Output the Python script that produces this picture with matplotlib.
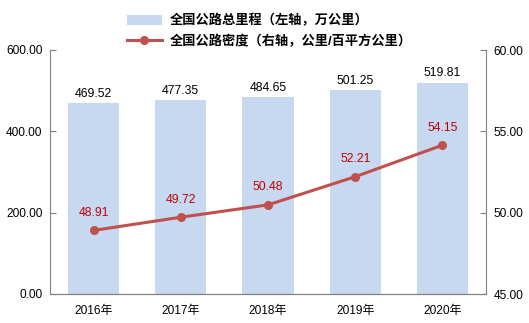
import matplotlib.pyplot as plt
from matplotlib.lines import Line2D
from matplotlib.patches import Patch

plt.rcParams['font.family'] = ['Liberation Sans', 'Noto Sans CJK SC', 'DejaVu Sans']

years = ['2016年', '2017年', '2018年', '2019年', '2020年']
mileage = [469.52, 477.35, 484.65, 501.25, 519.81]   # 万公里
density = [48.91, 49.72, 50.48, 52.21, 54.15]       # 公里/百平方公里

bar_color = '#C6D9F0'
line_color = '#C0504D'

fig = plt.figure(figsize=(5.29, 3.23), dpi=100)
ax1 = fig.add_axes([50 / 529, 29 / 323, 436 / 529, 244 / 323])
ax2 = ax1.twinx()

x = range(len(years))
ax1.bar(x, mileage, width=0.585, color=bar_color, zorder=1)
for i, v in enumerate(mileage):
    ax1.text(i, v + 8, f'{v:.2f}', ha='center', va='bottom', fontsize=8.8, color='black')

ax2.plot(x, density, color=line_color, linewidth=2.2, marker='o', markersize=5.5, zorder=3)
for i, v in enumerate(density):
    ax2.text(i, v + 0.7, f'{v:.2f}', ha='center', va='bottom', fontsize=8.8, color='#C00000')

ax1.set_xlim(-0.5, 4.5)
ax1.set_ylim(0, 600)
ax1.set_yticks([0, 200, 400, 600])
ax1.set_yticklabels([f'{t:.2f}' for t in [0, 200, 400, 600]])
ax2.set_ylim(45, 60)
ax2.set_yticks([45, 50, 55, 60])
ax2.set_yticklabels([f'{t:.2f}' for t in [45, 50, 55, 60]])
ax1.set_xticks(list(x))
ax1.set_xticklabels(years)

for ax in (ax1, ax2):
    ax.spines['top'].set_visible(False)
    for s in ax.spines.values():
        s.set_color('#808080')
    ax.tick_params(axis='y', direction='in', length=4, color='#808080', labelsize=8.6, pad=5.5)
ax1.tick_params(axis='x', length=0, labelsize=8.6, pad=8)
ax2.spines['left'].set_visible(False)
ax1.spines['right'].set_visible(False)

handles = [Patch(facecolor=bar_color, edgecolor='none'),
           Line2D([], [], color=line_color, linewidth=2.2, marker='o', markersize=5.5)]
labels = ['全国公路总里程（左轴，万公里）', '全国公路密度（右轴，公里/百平方公里）']
fig.legend(handles, labels, loc='upper left', bbox_to_anchor=(118 / 529, 1.0 - 5 / 323),
           frameon=False, prop={'weight': 'bold', 'size': 9.5}, handlelength=2.6,
           handletextpad=0.6, labelspacing=0.55, borderaxespad=0.3)

fig.savefig('out.png', dpi=100)
